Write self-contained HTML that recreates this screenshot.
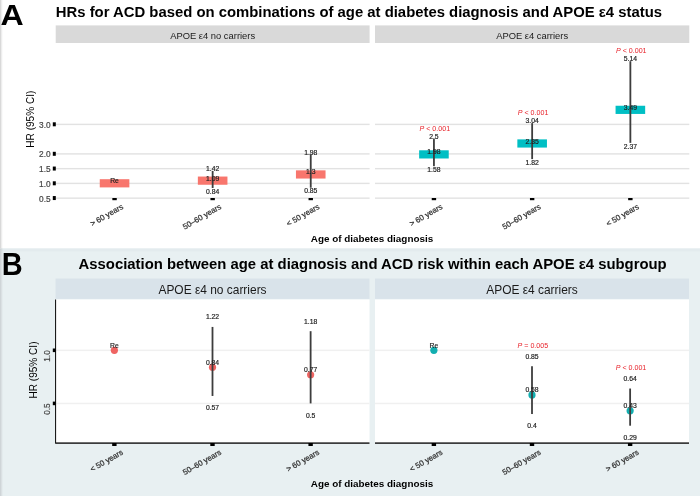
<!DOCTYPE html>
<html><head><meta charset="utf-8"><title>HRs for ACD</title>
<style>html,body{margin:0;padding:0;background:#fff;}svg{display:block;will-change:transform;}</style></head>
<body><svg width="700" height="496" viewBox="0 0 700 496" font-family="'Liberation Sans', Arial, sans-serif">
<rect x="0" y="0" width="700" height="496" fill="#ffffff"/>
<rect x="0" y="248.5" width="700" height="247.5" fill="#e8f0f2"/>
<rect x="0" y="248.5" width="700" height="3" fill="#e3ebee"/>
<rect x="0" y="0" width="1.3" height="248.5" fill="#d9d9d9"/>
<rect x="0" y="248.5" width="1.3" height="247.5" fill="#cfd5d8"/>
<rect x="1.3" y="0" width="1.2" height="496" fill="#000" opacity="0.04"/>
<text transform="translate(0.5,25) scale(1.056,1)" font-size="30.4" font-weight="bold" fill="#000">A</text>
<text x="55.8" y="16.8" font-size="14.86" font-weight="bold" fill="#000">HRs for ACD based on combinations of age at diabetes diagnosis and APOE ε4 status</text>
<rect x="55.7" y="25.4" width="313.9" height="17.6" fill="#d9d9d9"/>
<text x="212.65" y="39" font-size="9.4" fill="#1a1a1a" text-anchor="middle">APOE ε4 no carriers</text>
<rect x="55.7" y="197.45" width="313.9" height="1.4" fill="#e2e2e2"/>
<rect x="55.7" y="182.7" width="313.9" height="1.4" fill="#e2e2e2"/>
<rect x="55.7" y="167.95" width="313.9" height="1.4" fill="#e2e2e2"/>
<rect x="55.7" y="153.2" width="313.9" height="1.4" fill="#e2e2e2"/>
<rect x="55.7" y="123.7" width="313.9" height="1.4" fill="#e2e2e2"/>
<rect x="375.0" y="25.4" width="314.3" height="17.6" fill="#d9d9d9"/>
<text x="532.15" y="39" font-size="9.4" fill="#1a1a1a" text-anchor="middle">APOE ε4 carriers</text>
<rect x="375.0" y="197.45" width="314.3" height="1.4" fill="#e2e2e2"/>
<rect x="375.0" y="182.7" width="314.3" height="1.4" fill="#e2e2e2"/>
<rect x="375.0" y="167.95" width="314.3" height="1.4" fill="#e2e2e2"/>
<rect x="375.0" y="153.2" width="314.3" height="1.4" fill="#e2e2e2"/>
<rect x="375.0" y="123.7" width="314.3" height="1.4" fill="#e2e2e2"/>
<rect x="52.8" y="196.05" width="3" height="4" fill="#000"/>
<text x="50.6" y="201.621" font-size="8.3" fill="#444" stroke="#444" stroke-width="0.2" text-anchor="end">0.5</text>
<rect x="52.8" y="181.3" width="3" height="4" fill="#000"/>
<text x="50.6" y="186.871" font-size="8.3" fill="#444" stroke="#444" stroke-width="0.2" text-anchor="end">1.0</text>
<rect x="52.8" y="166.55" width="3" height="4" fill="#000"/>
<text x="50.6" y="172.121" font-size="8.3" fill="#444" stroke="#444" stroke-width="0.2" text-anchor="end">1.5</text>
<rect x="52.8" y="151.8" width="3" height="4" fill="#000"/>
<text x="50.6" y="157.371" font-size="8.3" fill="#444" stroke="#444" stroke-width="0.2" text-anchor="end">2.0</text>
<rect x="52.8" y="122.3" width="3" height="4" fill="#000"/>
<text x="50.6" y="127.871" font-size="8.3" fill="#444" stroke="#444" stroke-width="0.2" text-anchor="end">3.0</text>
<text transform="translate(34.0,119.2) rotate(-90)" font-size="10.05" fill="#000" text-anchor="middle">HR (95% CI)</text>
<rect x="112.356" y="198.0" width="4.4" height="2.2" fill="#000"/>
<text transform="translate(123.856,208.2) rotate(-30)" font-size="7.8" fill="#333" stroke="#333" stroke-width="0.25" text-anchor="end">&gt; 60 years</text>
<rect x="210.45" y="198.0" width="4.4" height="2.2" fill="#000"/>
<text transform="translate(221.95,208.2) rotate(-30)" font-size="7.8" fill="#333" stroke="#333" stroke-width="0.25" text-anchor="end">50–60 years</text>
<rect x="308.544" y="198.0" width="4.4" height="2.2" fill="#000"/>
<text transform="translate(320.044,208.2) rotate(-30)" font-size="7.8" fill="#333" stroke="#333" stroke-width="0.25" text-anchor="end">&lt; 50 years</text>
<rect x="431.731" y="198.0" width="4.4" height="2.2" fill="#000"/>
<text transform="translate(443.231,208.2) rotate(-30)" font-size="7.8" fill="#333" stroke="#333" stroke-width="0.25" text-anchor="end">&gt; 60 years</text>
<rect x="529.95" y="198.0" width="4.4" height="2.2" fill="#000"/>
<text transform="translate(541.45,208.2) rotate(-30)" font-size="7.8" fill="#333" stroke="#333" stroke-width="0.25" text-anchor="end">50–60 years</text>
<rect x="628.169" y="198.0" width="4.4" height="2.2" fill="#000"/>
<text transform="translate(639.669,208.2) rotate(-30)" font-size="7.8" fill="#333" stroke="#333" stroke-width="0.25" text-anchor="end">&lt; 50 years</text>
<text x="372" y="241.5" font-size="9.9" font-weight="bold" fill="#000" text-anchor="middle">Age of diabetes diagnosis</text>
<rect x="99.756" y="179.2" width="29.6" height="8.2" fill="#f8766d"/>
<text x="114.556" y="183.33" font-size="6.8" fill="#222" stroke="#222" stroke-width="0.18" text-anchor="middle">Re</text>
<rect x="197.85" y="176.545" width="29.6" height="8.2" fill="#f8766d"/>
<rect x="211.75" y="170.91" width="1.8" height="17.11" fill="#3d3d3d"/>
<text x="212.65" y="171.04" font-size="6.8" fill="#222" stroke="#222" stroke-width="0.18" text-anchor="middle">1.42</text>
<text x="212.65" y="193.75" font-size="6.8" fill="#222" stroke="#222" stroke-width="0.18" text-anchor="middle">0.84</text>
<text x="212.65" y="180.68" font-size="6.8" fill="#222" stroke="#222" stroke-width="0.18" text-anchor="middle">1.09</text>
<rect x="295.944" y="170.35" width="29.6" height="8.2" fill="#f8766d"/>
<rect x="309.844" y="154.39" width="1.8" height="33.335" fill="#3d3d3d"/>
<text x="310.744" y="154.52" font-size="6.8" fill="#222" stroke="#222" stroke-width="0.18" text-anchor="middle">1.98</text>
<text x="310.744" y="193.46" font-size="6.8" fill="#222" stroke="#222" stroke-width="0.18" text-anchor="middle">0.85</text>
<text x="310.744" y="174.48" font-size="6.8" fill="#222" stroke="#222" stroke-width="0.18" text-anchor="middle">1.3</text>
<rect x="419.131" y="150.29" width="29.6" height="8.2" fill="#00bfc4"/>
<rect x="433.031" y="139.05" width="1.8" height="27.14" fill="#3d3d3d"/>
<text x="433.931" y="139.18" font-size="6.8" fill="#222" stroke="#222" stroke-width="0.18" text-anchor="middle">2.5</text>
<text x="433.931" y="171.92" font-size="6.8" fill="#222" stroke="#222" stroke-width="0.18" text-anchor="middle">1.58</text>
<text x="434.831" y="131.09" font-size="7.1" fill="#e8222a" text-anchor="middle"><tspan font-style="italic">P</tspan> &lt; 0.001</text>
<text x="433.931" y="154.42" font-size="6.8" fill="#222" stroke="#222" stroke-width="0.18" text-anchor="middle">1.98</text>
<rect x="517.35" y="139.375" width="29.6" height="8.2" fill="#00bfc4"/>
<rect x="531.25" y="123.12" width="1.8" height="35.99" fill="#3d3d3d"/>
<text x="532.15" y="123.25" font-size="6.8" fill="#222" stroke="#222" stroke-width="0.18" text-anchor="middle">3.04</text>
<text x="532.15" y="164.84" font-size="6.8" fill="#222" stroke="#222" stroke-width="0.18" text-anchor="middle">1.82</text>
<text x="533.05" y="115.16" font-size="7.1" fill="#e8222a" text-anchor="middle"><tspan font-style="italic">P</tspan> &lt; 0.001</text>
<text x="532.15" y="143.51" font-size="6.8" fill="#222" stroke="#222" stroke-width="0.18" text-anchor="middle">2.35</text>
<rect x="615.569" y="105.745" width="29.6" height="8.2" fill="#00bfc4"/>
<rect x="629.469" y="61.17" width="1.8" height="81.715" fill="#3d3d3d"/>
<text x="630.369" y="61.30" font-size="6.8" fill="#222" stroke="#222" stroke-width="0.18" text-anchor="middle">5.14</text>
<text x="630.369" y="148.62" font-size="6.8" fill="#222" stroke="#222" stroke-width="0.18" text-anchor="middle">2.37</text>
<text x="631.269" y="53.21" font-size="7.1" fill="#e8222a" text-anchor="middle"><tspan font-style="italic">P</tspan> &lt; 0.001</text>
<text x="630.369" y="109.88" font-size="6.8" fill="#222" stroke="#222" stroke-width="0.18" text-anchor="middle">3.49</text>
<text transform="translate(1.75,275) scale(0.935,1)" font-size="31" font-weight="bold" fill="#000">B</text>
<text x="78.6" y="269.2" font-size="14.86" font-weight="bold" fill="#000">Association between age at diagnosis and ACD risk within each APOE ε4 subgroup</text>
<rect x="55.5" y="278.5" width="314.0" height="20.4" fill="#d9e3ea"/>
<text x="212.5" y="293.8" font-size="11.95" fill="#1a1a1a" text-anchor="middle">APOE ε4 no carriers</text>
<rect x="55.5" y="299.5" width="314.0" height="143.5" fill="#ffffff"/>
<rect x="55.5" y="402.7" width="314.0" height="1.5" fill="#f0f0f0"/>
<rect x="55.5" y="349.6" width="314.0" height="1.5" fill="#f0f0f0"/>
<rect x="55.5" y="442.4" width="314.0" height="1.4" fill="#111"/>
<rect x="375.0" y="278.5" width="314.0" height="20.4" fill="#d9e3ea"/>
<text x="532.0" y="293.8" font-size="11.95" fill="#1a1a1a" text-anchor="middle">APOE ε4 carriers</text>
<rect x="375.0" y="299.5" width="314.0" height="143.5" fill="#ffffff"/>
<rect x="375.0" y="402.7" width="314.0" height="1.5" fill="#f0f0f0"/>
<rect x="375.0" y="349.6" width="314.0" height="1.5" fill="#f0f0f0"/>
<rect x="375.0" y="442.4" width="314.0" height="1.4" fill="#111"/>
<rect x="55" y="299.5" width="1.1" height="144" fill="#1a1a1a"/>
<rect x="52.8" y="401.6" width="2.8" height="3.6" fill="#000"/>
<text transform="translate(49.86,403.4) rotate(-90)" font-size="8.2" fill="#444" stroke="#444" stroke-width="0.2" text-anchor="end">0.5</text>
<rect x="52.8" y="348.5" width="2.8" height="3.6" fill="#000"/>
<text transform="translate(49.86,350.3) rotate(-90)" font-size="8.2" fill="#444" stroke="#444" stroke-width="0.2" text-anchor="end">1.0</text>
<text transform="translate(37.4,370) rotate(-90)" font-size="10.05" fill="#000" text-anchor="middle">HR (95% CI)</text>
<rect x="112.175" y="443" width="4.4" height="3" fill="#000"/>
<text transform="translate(123.675,453.8) rotate(-30)" font-size="7.8" fill="#333" stroke="#333" stroke-width="0.25" text-anchor="end">&lt; 50 years</text>
<rect x="210.3" y="443" width="4.4" height="3" fill="#000"/>
<text transform="translate(221.8,453.8) rotate(-30)" font-size="7.8" fill="#333" stroke="#333" stroke-width="0.25" text-anchor="end">50–60 years</text>
<rect x="308.425" y="443" width="4.4" height="3" fill="#000"/>
<text transform="translate(319.925,453.8) rotate(-30)" font-size="7.8" fill="#333" stroke="#333" stroke-width="0.25" text-anchor="end">&gt; 60 years</text>
<rect x="431.675" y="443" width="4.4" height="3" fill="#000"/>
<text transform="translate(443.175,453.8) rotate(-30)" font-size="7.8" fill="#333" stroke="#333" stroke-width="0.25" text-anchor="end">&lt; 50 years</text>
<rect x="529.8" y="443" width="4.4" height="3" fill="#000"/>
<text transform="translate(541.3,453.8) rotate(-30)" font-size="7.8" fill="#333" stroke="#333" stroke-width="0.25" text-anchor="end">50–60 years</text>
<rect x="627.925" y="443" width="4.4" height="3" fill="#000"/>
<text transform="translate(639.425,453.8) rotate(-30)" font-size="7.8" fill="#333" stroke="#333" stroke-width="0.25" text-anchor="end">&gt; 60 years</text>
<text x="372" y="486.7" font-size="9.9" font-weight="bold" fill="#000" text-anchor="middle">Age of diabetes diagnosis</text>
<circle cx="114.375" cy="350.3" r="3.6" fill="#ef6462"/>
<text x="114.375" y="347.83" font-size="6.8" fill="#222" stroke="#222" stroke-width="0.18" text-anchor="middle">Re</text>
<circle cx="212.5" cy="367.292" r="3.6" fill="#ef6462"/>
<rect x="211.6" y="326.936" width="1.8" height="69.03" fill="#3d3d3d"/>
<text x="212.5" y="319.37" font-size="6.8" fill="#222" stroke="#222" stroke-width="0.18" text-anchor="middle">1.22</text>
<text x="212.5" y="410.10" font-size="6.8" fill="#222" stroke="#222" stroke-width="0.18" text-anchor="middle">0.57</text>
<text x="212.5" y="364.83" font-size="6.8" fill="#222" stroke="#222" stroke-width="0.18" text-anchor="middle">0.84</text>
<circle cx="310.625" cy="374.726" r="3.6" fill="#ef6462"/>
<rect x="309.725" y="331.184" width="1.8" height="72.216" fill="#3d3d3d"/>
<text x="310.625" y="323.62" font-size="6.8" fill="#222" stroke="#222" stroke-width="0.18" text-anchor="middle">1.18</text>
<text x="310.625" y="417.53" font-size="6.8" fill="#222" stroke="#222" stroke-width="0.18" text-anchor="middle">0.5</text>
<text x="310.625" y="372.26" font-size="6.8" fill="#222" stroke="#222" stroke-width="0.18" text-anchor="middle">0.77</text>
<circle cx="433.875" cy="350.3" r="3.6" fill="#12aeb0"/>
<text x="433.875" y="347.83" font-size="6.8" fill="#222" stroke="#222" stroke-width="0.18" text-anchor="middle">Re</text>
<circle cx="532.0" cy="394.904" r="3.6" fill="#12aeb0"/>
<rect x="531.1" y="366.23" width="1.8" height="47.79" fill="#3d3d3d"/>
<text x="532.0" y="358.66" font-size="6.8" fill="#222" stroke="#222" stroke-width="0.18" text-anchor="middle">0.85</text>
<text x="532.0" y="428.15" font-size="6.8" fill="#222" stroke="#222" stroke-width="0.18" text-anchor="middle">0.4</text>
<text x="532.9" y="347.77" font-size="7.1" fill="#e8222a" text-anchor="middle"><tspan font-style="italic">P</tspan> = 0.005</text>
<text x="532.0" y="392.44" font-size="6.8" fill="#222" stroke="#222" stroke-width="0.18" text-anchor="middle">0.58</text>
<circle cx="630.125" cy="410.834" r="3.6" fill="#12aeb0"/>
<rect x="629.225" y="388.532" width="1.8" height="37.17" fill="#3d3d3d"/>
<text x="630.125" y="380.97" font-size="6.8" fill="#222" stroke="#222" stroke-width="0.18" text-anchor="middle">0.64</text>
<text x="630.125" y="439.84" font-size="6.8" fill="#222" stroke="#222" stroke-width="0.18" text-anchor="middle">0.29</text>
<text x="631.025" y="370.07" font-size="7.1" fill="#e8222a" text-anchor="middle"><tspan font-style="italic">P</tspan> &lt; 0.001</text>
<text x="630.125" y="408.37" font-size="6.8" fill="#222" stroke="#222" stroke-width="0.18" text-anchor="middle">0.43</text>
</svg></body></html>
